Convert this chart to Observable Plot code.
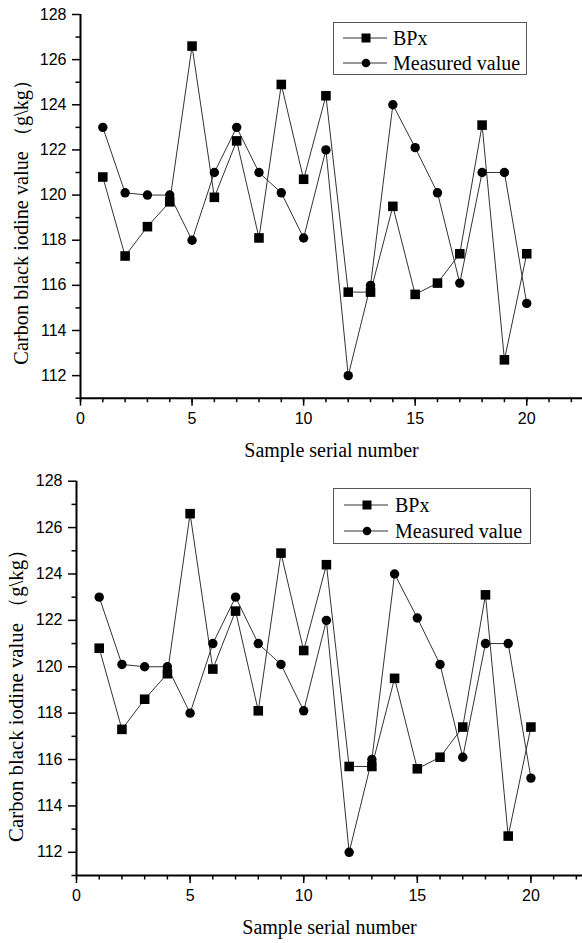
<!DOCTYPE html>
<html>
<head>
<meta charset="utf-8">
<script src="https://cdn.jsdelivr.net/npm/d3@7"></script>
<script src="https://cdn.jsdelivr.net/npm/@observablehq/plot@0.6"></script>
<style>
  body { margin: 0; background: #fff; }
  #chart > div, #chart > svg { display: block; }
</style>
</head>
<body>
<div id="chart"></div>
<script>
// ---- data ----
const samples = [1, 2, 3, 4, 5, 6, 7, 8, 9, 10, 11, 12, 13, 14, 15, 16, 17, 18, 19, 20];
const bpx = [120.8, 117.3, 118.6, 119.7, 126.6, 119.9, 122.4, 118.1, 124.9, 120.7,
             124.4, 115.7, 115.7, 119.5, 115.6, 116.1, 117.4, 123.1, 112.7, 117.4];
const measured = [123.0, 120.1, 120.0, 120.0, 118.0, 121.0, 123.0, 121.0, 120.1, 118.1,
                  122.0, 112.0, 116.0, 124.0, 122.1, 120.1, 116.1, 121.0, 121.0, 115.2];
const seriesNames = ["BPx", "Measured value"];
const xMajorTicks = [0, 5, 10, 15, 20];
const xMinorTicks = [0, 1, 2, 3, 4, 5, 6, 7, 8, 9, 10, 11, 12, 13, 14, 15, 16, 17, 18, 19, 20, 21, 22];
const yMajorTicks = [112, 114, 116, 118, 120, 122, 124, 126, 128];
const yMinorTicks = [111, 113, 115, 117, 119, 121, 123, 125, 127];
const xTitle = "Sample serial number";
const yTitle = "Carbon black iodine value （g\\kg）";

const bpxRows = samples.map((s, i) => ({sample: s, value: bpx[i]}));
const measRows = samples.map((s, i) => ({sample: s, value: measured[i]}));

const panels = [
  {height: 470, mt: 14, mb: 72.3, ml: 80, xmax: 22.5, titleDx: -59, titleDy: 11, titleSize: 20.3,
   legend: {x0: 333, x1: 526, y0: 22, y1: 74, rows: [38, 63], lx0: 343, lx1: 387, mx: 366, tx: 393}},
  {height: 473, mt: 10.7, mb: 68, ml: 76, xmax: 22.27, titleDx: -60, titleDy: 12, titleSize: 20.8,
   legend: {x0: 333, x1: 530, y0: 18, y1: 73, rows: [35, 61], lx0: 344, lx1: 388, mx: 367, tx: 395}}
];

const serif = "'Liberation Serif', 'Times New Roman', serif";
const sans = "'Liberation Sans', Arial, sans-serif";

function makePanel(p) {
  const chart = Plot.plot({
    width: 582,
    height: p.height,
    marginTop: p.mt,
    marginBottom: p.mb,
    marginLeft: p.ml,
    marginRight: 0,
    style: {fontFamily: sans, fontSize: "16px", color: "#000", background: "#fff", overflow: "visible"},
    x: {domain: [0, p.xmax]},
    y: {domain: [111, 128]},
    marks: [
      Plot.axisX({ticks: xMajorTicks, tickSize: 8, tickPadding: 6, strokeWidth: 1.5, label: null, fontSize: 16}),
      Plot.axisX({ticks: xMinorTicks, tickSize: 4.5, tickFormat: () => "", strokeWidth: 1.5, label: null}),
      Plot.axisY({ticks: yMajorTicks, tickSize: 8, tickPadding: 6, strokeWidth: 1.5, label: null, fontSize: 16}),
      Plot.axisY({ticks: yMinorTicks, tickSize: 4.5, tickFormat: () => "", strokeWidth: 1.5, label: null}),
      Plot.ruleX([0], {stroke: "#000", strokeWidth: 2}),
      Plot.ruleY([111], {stroke: "#000", strokeWidth: 2}),
      Plot.lineY(bpxRows, {x: "sample", y: "value", stroke: "#333", strokeWidth: 1}),
      Plot.lineY(measRows, {x: "sample", y: "value", stroke: "#333", strokeWidth: 1}),
      Plot.dot(bpxRows, {x: "sample", y: "value", symbol: "square", r: 5.4, fill: "#000", stroke: "none"}),
      Plot.dot(measRows, {x: "sample", y: "value", symbol: "circle", r: 4.7, fill: "#000", stroke: "none"}),
      Plot.text([xTitle], {text: d => d, frameAnchor: "bottom", dy: 52, textAnchor: "middle", lineAnchor: "middle",
                           fontFamily: serif, fontSize: 20, fill: "#000"}),
      Plot.text([yTitle], {text: d => d, frameAnchor: "left", rotate: -90, dx: p.titleDx, dy: p.titleDy,
                           textAnchor: "middle", lineAnchor: "middle",
                           fontFamily: serif, fontSize: p.titleSize, fill: "#000"})
    ]
  });

  // legend box drawn inside the panel
  const L = p.legend;
  const svg = d3.select(chart);
  const g = svg.append("g").attr("class", "legend").attr("text-anchor", "start");
  g.append("rect")
    .attr("x", L.x0 + 0.5).attr("y", L.y0 + 0.5)
    .attr("width", L.x1 - L.x0).attr("height", L.y1 - L.y0)
    .attr("fill", "#fff").attr("stroke", "#555").attr("stroke-width", 1);
  seriesNames.forEach((name, i) => {
    const y = L.rows[i];
    g.append("line").attr("x1", L.lx0).attr("x2", L.lx1).attr("y1", y).attr("y2", y)
      .attr("stroke", "#333").attr("stroke-width", 1);
    if (i === 0) {
      g.append("rect").attr("x", L.mx - 4.5).attr("y", y - 4.5).attr("width", 9).attr("height", 9).attr("fill", "#000");
    } else {
      g.append("circle").attr("cx", L.mx).attr("cy", y).attr("r", 4.3).attr("fill", "#000");
    }
    g.append("text").attr("x", L.tx).attr("y", y).attr("dy", "0.35em").attr("text-anchor", "start")
      .attr("font-family", serif).attr("font-size", 20).attr("fill", "#000").text(name);
  });
  return chart;
}

const root = document.getElementById("chart");
panels.forEach(p => root.appendChild(makePanel(p)));
</script>
</body>
</html>
